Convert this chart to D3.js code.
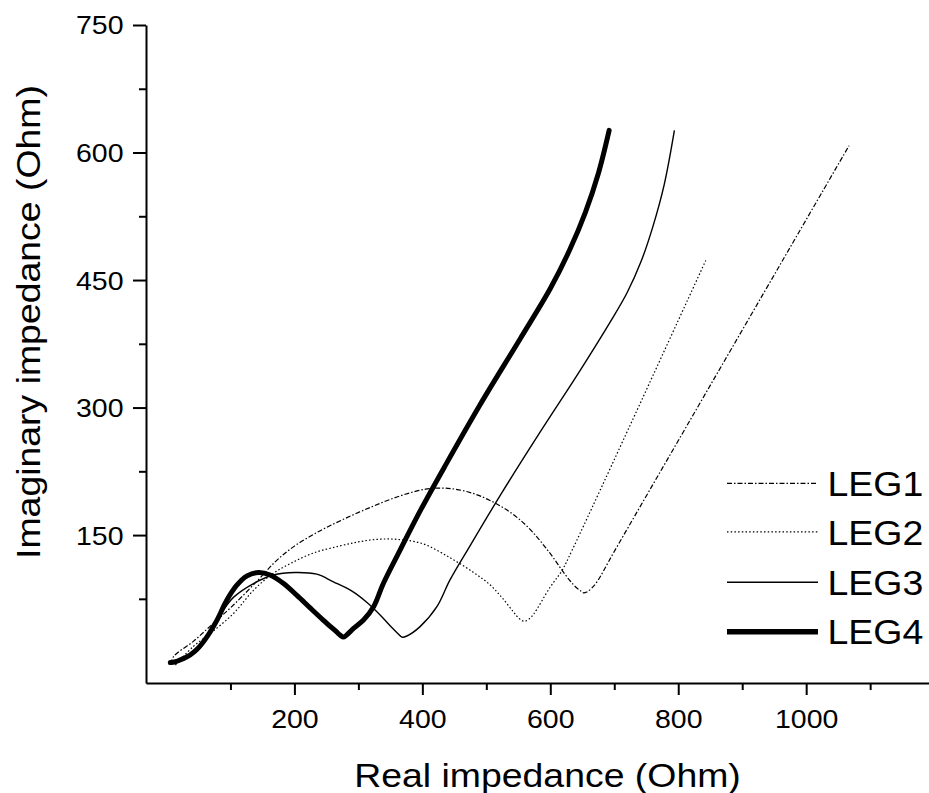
<!DOCTYPE html>
<html>
<head>
<meta charset="utf-8">
<script src="https://cdn.jsdelivr.net/npm/d3@7/dist/d3.min.js"></script>
<style>
  html, body { margin: 0; padding: 0; background: #fff; }
  svg { display: block; }
  text { font-family: "Liberation Sans", Arial, Helvetica, sans-serif; fill: #000; }
</style>
</head>
<body>
<svg id="chart" width="929" height="793"></svg>
<script>
// ---------------- DATA ----------------
const seriesNames = ["LEG1", "LEG2", "LEG3", "LEG4"];

const leg1Re = [7, 11, 42, 73, 105, 143, 172, 200, 235, 275, 320, 365, 405, 440, 475, 505, 535, 560, 580, 595, 607, 618, 630, 641, 648, 652, 657, 664, 673, 701, 1067];
const leg1Im = [-2, 7, 25, 46, 68, 97, 120, 137, 153, 168, 183, 196, 204, 205, 200, 191, 178, 163, 147, 133, 121, 109, 97, 88, 84, 82, 83, 87, 95, 132, 608];

const leg2Re = [14, 42, 68, 105, 136, 165, 195, 230, 270, 300, 330, 360, 400, 444, 480, 505, 525, 542, 551, 557, 562, 568, 574, 600, 618, 634, 843];
const leg2Im = [-3, 19, 34, 58, 85, 104, 117, 129, 137, 142, 145, 145, 140, 123, 106, 92, 76, 60, 52, 49, 49, 52, 57, 89, 108, 132, 473];

const leg3Re = [5, 21, 37, 47, 63, 79, 92, 105, 136, 167, 201, 235, 261, 290, 313, 334, 350, 362, 368, 375, 396, 423, 443, 475, 522, 584, 647, 694, 720, 742, 760, 778, 794];
const leg3Im = [0, 3, 9, 15, 30, 50, 65, 77, 93, 103, 106, 104, 95, 84, 71, 56, 43, 34, 30, 31, 42, 66, 97, 138, 197, 271, 344, 401, 435, 472, 512, 562, 626];

const leg4Re = [6, 14, 21, 30, 37, 47, 63, 79, 94, 110, 126, 144, 162, 183, 204, 225, 245, 266, 272, 277, 284, 292, 308, 324, 339, 365, 397, 436, 490, 553, 600, 630, 655, 675, 692];
const leg4Im = [0, 1, 3, 6, 9, 15, 30, 50, 73, 91, 102, 106, 103, 93, 79, 64, 50, 36, 32, 30, 34, 40, 50, 66, 93, 132, 179, 232, 303, 381, 440, 485, 530, 575, 626];

const xMajorTicks = [200, 400, 600, 800, 1000];
const xMinorTicks = [100, 300, 500, 700, 900, 1100];
const yMajorTicks = [150, 300, 450, 600, 750];
const yMinorTicks = [75, 225, 375, 525, 675];

const xTitle = "Real impedance (Ohm)";
const yTitle = "Imaginary impedance (Ohm)";

// ---------------- LAYOUT ----------------
const svg = d3.select("#chart");
const plotLeft = 146, plotRight = 929, plotTop = 25, plotBottom = 683;

const x = d3.scaleLinear().domain([-32, 1192]).range([plotLeft, plotRight]);
const y = d3.scaleLinear().domain([-24, 750]).range([plotBottom, plotTop]);

const styles = [
  { width: 1.2, dash: "5,2,1.5,2" },
  { width: 1.2, dash: "1.5,2.2" },
  { width: 1.4, dash: null },
  { width: 5, dash: null }
];

const data = [
  d3.zip(leg1Re, leg1Im),
  d3.zip(leg2Re, leg2Im),
  d3.zip(leg3Re, leg3Im),
  d3.zip(leg4Re, leg4Im)
];

// ---------------- AXES ----------------
const axisStroke = 2;

const gx = svg.append("g").attr("transform", `translate(0,${plotBottom})`);
gx.call(d3.axisBottom(x).tickValues(xMinorTicks).tickSize(7).tickSizeOuter(0).tickFormat(""));
const gxMaj = svg.append("g").attr("transform", `translate(0,${plotBottom})`);
gxMaj.call(d3.axisBottom(x).tickValues(xMajorTicks).tickSize(12).tickSizeOuter(0).tickFormat(d3.format("d")));
gxMaj.select(".domain").remove();

const gy = svg.append("g").attr("transform", `translate(${plotLeft},0)`);
gy.call(d3.axisLeft(y).tickValues(yMinorTicks).tickSize(7).tickSizeOuter(0).tickFormat(""));
const gyMaj = svg.append("g").attr("transform", `translate(${plotLeft},0)`);
gyMaj.call(d3.axisLeft(y).tickValues(yMajorTicks).tickSize(13).tickSizeOuter(0).tickFormat(d3.format("d")));
gyMaj.select(".domain").remove();

svg.selectAll(".domain").attr("stroke", "#000").attr("stroke-width", axisStroke);
svg.selectAll(".tick line").attr("stroke", "#000").attr("stroke-width", axisStroke);

const tickFont = 25, tickScale = 1.14;
gxMaj.selectAll(".tick text")
  .attr("font-size", tickFont)
  .attr("y", null).attr("dy", null)
  .attr("font-family", "Liberation Sans, Arial, sans-serif")
  .attr("transform", `translate(0,45) scale(${tickScale},1)`);
gyMaj.selectAll(".tick text")
  .attr("font-size", tickFont)
  .attr("x", null).attr("dy", "0.358em")
  .attr("font-family", "Liberation Sans, Arial, sans-serif")
  .attr("transform", `translate(-22.5,0) scale(${tickScale},1)`);

// ---------------- TITLES ----------------
svg.append("text")
  .attr("text-anchor", "middle")
  .attr("font-size", 34)
  .attr("transform", "translate(547.5,786.7) scale(1.1,1)")
  .text(xTitle);

svg.append("text")
  .attr("text-anchor", "middle")
  .attr("font-size", 34)
  .attr("transform", "translate(40,322) rotate(-90) scale(1.1,1)")
  .text(yTitle);

// ---------------- LINES ----------------
const line = d3.line()
  .x(d => x(d[0]))
  .y(d => y(d[1]))
  .curve(d3.curveCatmullRom.alpha(0.5));

svg.append("g").selectAll("path")
  .data(data)
  .join("path")
  .attr("d", d => line(d))
  .attr("fill", "none")
  .attr("stroke", "#000")
  .attr("stroke-width", (d, i) => styles[i].width)
  .attr("stroke-dasharray", (d, i) => styles[i].dash)
  .attr("stroke-linejoin", "round")
  .attr("stroke-linecap", (d, i) => i === 3 ? "round" : "butt");

// ---------------- LEGEND ----------------
const legRows = [483.3, 531.9, 582.3, 631.7];
const leg = svg.append("g");
seriesNames.forEach((name, i) => {
  leg.append("line")
    .attr("x1", 727).attr("x2", 818)
    .attr("y1", legRows[i]).attr("y2", legRows[i])
    .attr("stroke", "#000")
    .attr("stroke-width", i === 3 ? 5.5 : styles[i].width)
    .attr("stroke-dasharray", styles[i].dash);
  leg.append("text")
    .attr("font-size", 35)
    .attr("transform", `translate(827.5,${legRows[i] + 12.6}) scale(1.07,1)`)
    .text(name);
});
</script>
</body>
</html>
